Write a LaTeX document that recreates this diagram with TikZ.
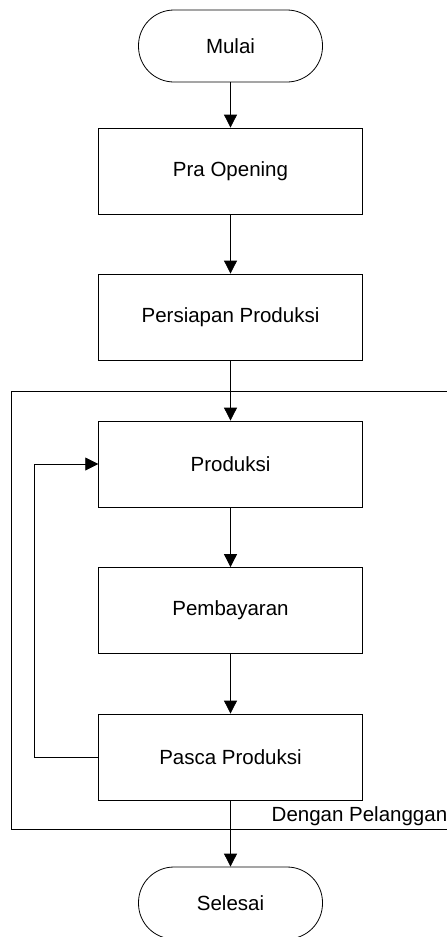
\documentclass[tikz,border=0pt]{standalone}
\usepackage{fontspec}
\setmainfont{Liberation Sans}
\usetikzlibrary{arrows.meta}
\begin{document}
\begin{tikzpicture}[x=1pt,y=-1pt,
  every node/.style={font=\fontsize{20.5}{24}\selectfont},
  procbox/.style={draw=black,line width=0.8pt,minimum width=263.6pt,minimum height=86pt,inner sep=0pt},
  termbox/.style={draw=black,line width=0.8pt,minimum width=184pt,minimum height=72pt,inner sep=0pt,rounded corners=35.5pt},
  flow/.style={line width=0.8pt,-{Triangle[width=13pt,length=13pt]}},
  plain/.style={line width=0.8pt}]
\useasboundingbox (0,0) rectangle (447,937);
\clip (0,0) rectangle (447,937);
\node[termbox] (mulai) at (230.5,46) {Mulai};
\node[procbox] (pra) at (230.5,171) {Pra Opening};
\node[procbox] (persiapan) at (230.5,317) {Persiapan Produksi};
\node[draw=black,line width=0.8pt,anchor=north west,minimum width=470pt,minimum height=438pt,inner sep=0pt] (grp) at (11.3,391) {};
\node[procbox] (produksi) at (230.5,464) {Produksi};
\node[procbox] (bayar) at (230.5,610.5) {Pembayaran};
\node[procbox] (pasca) at (230.5,757) {Pasca Produksi};
\node[termbox] (selesai) at (230.5,903) {Selesai};
\node[anchor=base west,inner sep=0pt] (lbl) at (271.5,821) {Dengan Pelanggan};
\draw[flow] (mulai) -- (pra);
\draw[flow] (pra) -- (persiapan);
\draw[flow] (persiapan) -- (produksi);
\draw[flow] (produksi) -- (bayar);
\draw[flow] (bayar) -- (pasca);
\draw[flow] (pasca) -- (selesai);
\coordinate (lp) at (34.3,757);
\draw[flow] (pasca.west) -- (lp) |- (produksi.west);
\end{tikzpicture}
\end{document}
